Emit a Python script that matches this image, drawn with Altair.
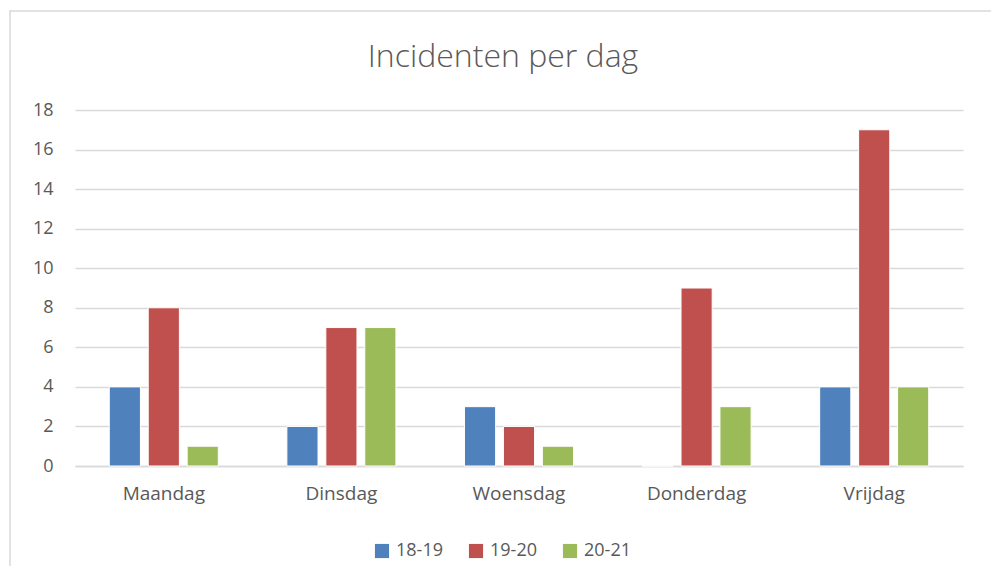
import altair as alt
import pandas as pd

days = ["Maandag", "Dinsdag", "Woensdag", "Donderdag", "Vrijdag"]
series = ["18-19", "19-20", "20-21"]
v_18_19 = [4, 2, 3, 0, 4]
v_19_20 = [8, 7, 2, 9, 17]
v_20_21 = [1, 7, 1, 3, 4]
colors = ["#4f81bd", "#c0504d", "#9bbb59"]
y_ticks = list(range(0, 19, 2))
title_text = "Incidenten per dag"

rows = []
for s, vals in zip(series, [v_18_19, v_19_20, v_20_21]):
    for d, v in zip(days, vals):
        rows.append({"dag": d, "reeks": s, "aantal": v})
df = pd.DataFrame(rows)

FONT = "Open Sans"
TXT = "#595959"
W, H = 888, 356

bars = alt.Chart(df).mark_bar(stroke="white", strokeWidth=1).encode(
    x=alt.X("dag:N", sort=days, title=None,
            scale=alt.Scale(paddingInner=0.386, paddingOuter=0.193),
            axis=alt.Axis(labelAngle=0, labelFontSize=19, labelColor=TXT, labelFont=FONT,
                          labelPadding=18, ticks=False, domainColor="#d9d9d9",
                          domainWidth=1.3, grid=False)),
    xOffset=alt.XOffset("reeks:N", sort=series,
                        scale=alt.Scale(paddingInner=0.2, paddingOuter=0)),
    y=alt.Y("aantal:Q", title=None,
            scale=alt.Scale(domain=[0, 18], nice=False),
            axis=alt.Axis(values=y_ticks, labelFontSize=18, labelColor=TXT, labelFont=FONT,
                          labelPadding=22, ticks=False, domain=False,
                          gridColor="#d9d9d9", gridWidth=1.3)),
    color=alt.Color("reeks:N", sort=series, title=None,
                    scale=alt.Scale(domain=series, range=colors),
                    legend=alt.Legend(orient="none", legendX=298, legendY=432,
                                      direction="horizontal", symbolType="square",
                                      symbolSize=200, symbolStrokeWidth=0,
                                      labelFontSize=18, labelColor=TXT, labelFont=FONT,
                                      columnPadding=24, labelOffset=5)),
)

frame = alt.Chart(pd.DataFrame({"k": [0]})).mark_rect(
    fill=None, stroke="#d9d9d9", strokeWidth=1.5, clip=False
).encode(
    x=alt.value(-65), x2=alt.value(918), y=alt.value(-99), y2=alt.value(480)
)

title = alt.Chart(pd.DataFrame({"t": [title_text]})).mark_text(
    font=FONT, fontSize=32, fontWeight=300, color=TXT, align="center",
    baseline="middle", clip=False
).encode(text="t:N", x=alt.value(428), y=alt.value(-53))

chart = alt.layer(frame, bars, title).properties(
    width=W, height=H,
    autosize=alt.AutoSizeParams(type="none"),
    padding={"left": 67, "top": 102, "right": 28, "bottom": 100},
).configure(background="white").configure_view(stroke=None)

chart.save("out.html", embed_options={"renderer": "svg", "actions": False})
